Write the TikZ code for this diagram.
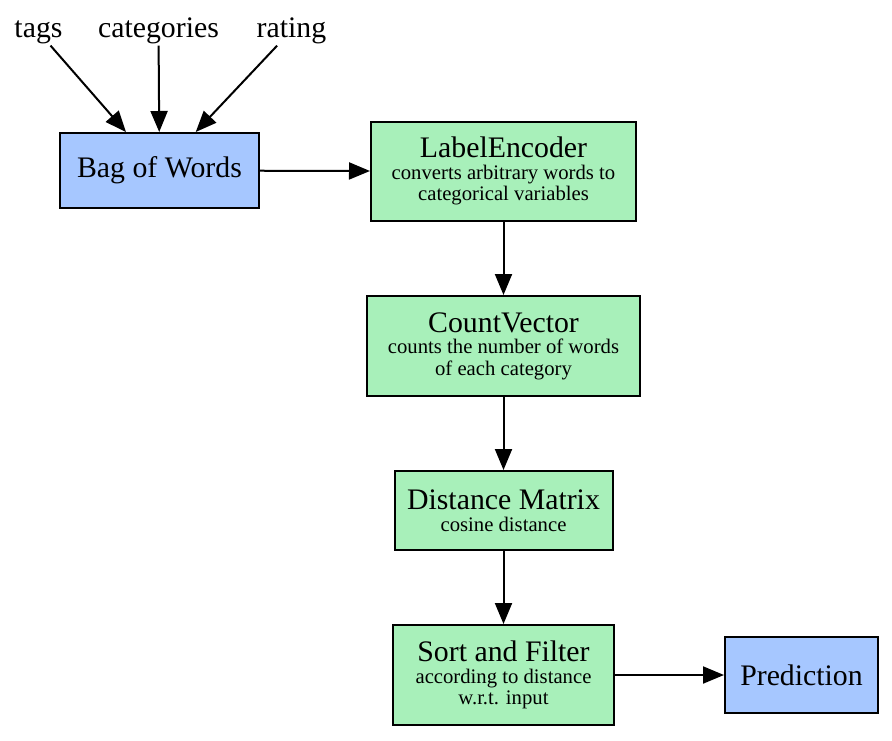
\documentclass[tikz,border=0pt]{standalone}
\usepackage{fontspec}
\setmainfont{Liberation Serif}
\usetikzlibrary{arrows.meta}
\definecolor{inFill}{rgb}{0.65,0.78,1.00}
\definecolor{stepFill}{rgb}{0.66,0.94,0.73}
\newcommand{\mainsize}{\fontsize{29.8}{21.5}\selectfont}
\newcommand{\subsize}{\fontsize{20.7}{21.5}\selectfont}
\begin{document}
\begin{tikzpicture}[x=1pt,y=-1pt,
  inlabel/.style={anchor=base,inner sep=2pt,font=\mainsize},
  ends/.style={draw=black,line width=2pt,fill=inFill,inner sep=0pt,font=\mainsize},
  stepbox/.style={draw=black,line width=2pt,fill=stepFill,inner sep=0pt,align=center,font=\subsize},
  edge/.style={line width=2pt,-{Triangle[length=21pt,width=17pt]}}]
\path[use as bounding box,fill=white] (0,0) rectangle (892,740);

% inputs
\node[inlabel] (tags) at ( 38.5,37) {tags};
\node[inlabel] (cats) at (158.5,37) {categories};
\node[inlabel] (rate) at (291.5,37) {rating};

% boxes
\node[ends,minimum width=199pt,minimum height=75pt] (bow) at (159.5,170.5) {Bag of Words};
\node[stepbox,minimum width=265pt,minimum height=99pt] (enc) at (503.5,171.3)
  {{\mainsize LabelEncoder}\\converts arbitrary words to\\categorical variables};
\node[stepbox,minimum width=273pt,minimum height=100pt] (cnt) at (503.5,346)
  {{\mainsize CountVector}\\counts the number of words\\of each category};
\node[stepbox,minimum width=218pt,minimum height=79pt] (dist) at (503.5,510.5)
  {{\mainsize Distance Matrix}\\cosine distance};
\node[stepbox,minimum width=221pt,minimum height=100pt] (sort) at (503.5,675)
  {{\mainsize Sort and Filter}\\according to distance\\w.r.t. input};
\node[ends,minimum width=153pt,minimum height=76pt] (pred) at (801.5,675) {Prediction};

% connectors
\draw[edge] (tags) -- (bow);
\draw[edge] (cats) -- (bow);
\draw[edge] (rate) -- (bow);
\draw[edge] (bow) -- (enc);
\draw[edge] (enc) -- (cnt);
\draw[edge] (cnt) -- (dist);
\draw[edge] (dist) -- (sort);
\draw[edge] (sort) -- (pred);
\end{tikzpicture}
\end{document}
